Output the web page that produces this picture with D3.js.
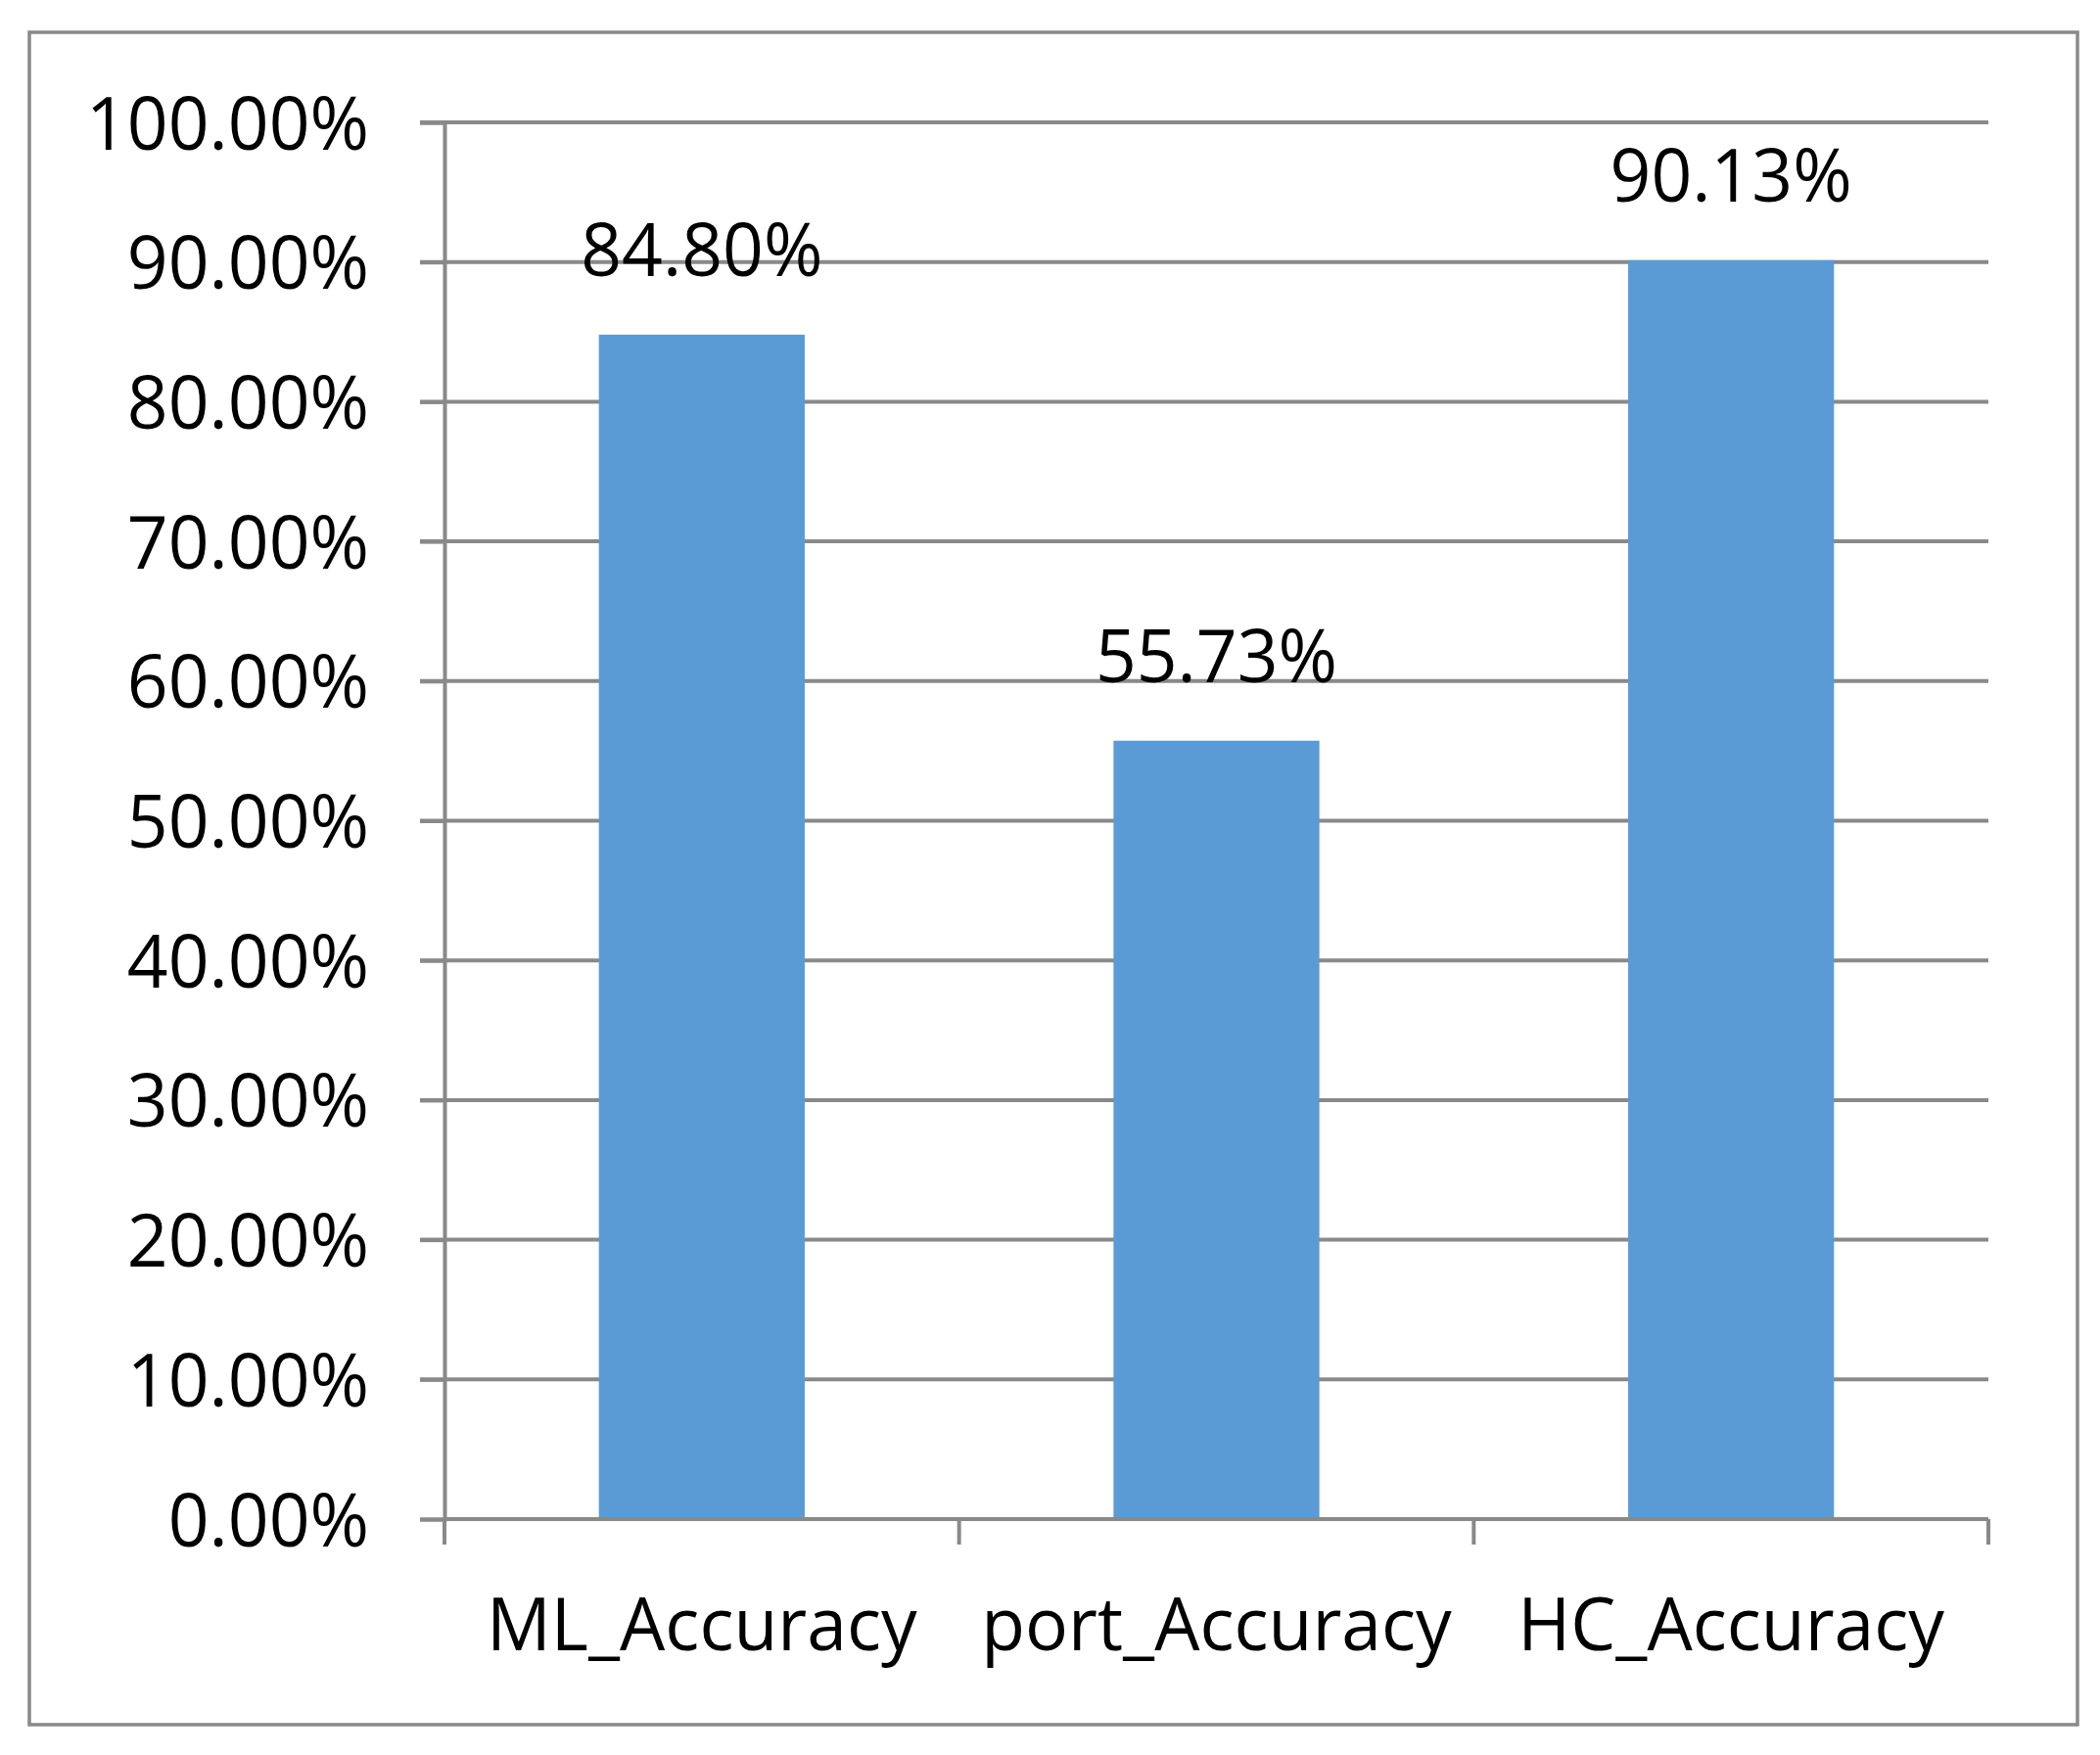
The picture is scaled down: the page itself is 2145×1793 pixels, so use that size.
<!DOCTYPE html>
<html>
<head>
<meta charset="utf-8">
<script src="https://cdn.jsdelivr.net/npm/d3@7"></script>
<style>
  html, body { margin: 0; padding: 0; background: #fff; }
  svg { display: block; }
  text { font-family: "Open Sans", "Noto Sans", sans-serif; fill: #000; }
</style>
</head>
<body>
<script>
// ---- data ----
const categories = ["ML_Accuracy", "port_Accuracy", "HC_Accuracy"];
const values = [0.8480, 0.5573, 0.9013];
const valueLabels = ["84.80%", "55.73%", "90.13%"];
const yTicks = [0, 0.1, 0.2, 0.3, 0.4, 0.5, 0.6, 0.7, 0.8, 0.9, 1.0];
const yTickLabels = ["0.00%", "10.00%", "20.00%", "30.00%", "40.00%", "50.00%", "60.00%", "70.00%", "80.00%", "90.00%", "100.00%"];

// ---- layout ----
const W = 2145, H = 1793;
const plot = { left: 454, right: 2031, top: 125, bottom: 1552 };
const gray = "#898989";
const barColor = "#5B9BD5";
const fontSize = 75;

const svg = d3.select("body").append("svg").attr("width", W).attr("height", H);

// outer border
svg.append("rect")
  .attr("x", 30).attr("y", 33).attr("width", 2122 - 30).attr("height", 1762 - 33)
  .attr("fill", "#fff").attr("stroke", gray).attr("stroke-width", 3.5);

const x = d3.scaleBand().domain(categories).range([plot.left, plot.right]).padding(0);
const y = d3.scaleLinear().domain([0, 1]).range([plot.bottom, plot.top]);

// gridlines (extend left as tick marks)
svg.append("g").selectAll("line").data(yTicks.filter(d => d > 0)).join("line")
  .attr("x1", plot.left - 25).attr("x2", plot.right)
  .attr("y1", d => y(d)).attr("y2", d => y(d))
  .attr("stroke", gray).attr("stroke-width", 4);

// bars
const barFrac = 0.4;
svg.append("g").selectAll("rect").data(values).join("rect")
  .attr("x", (d, i) => x(categories[i]) + x.bandwidth() * (1 - barFrac) / 2)
  .attr("width", x.bandwidth() * barFrac)
  .attr("y", d => y(d))
  .attr("height", d => y(0) - y(d))
  .attr("fill", barColor);

// y axis
const yAxis = d3.axisLeft(y).tickValues(yTicks)
  .tickFormat((d, i) => yTickLabels[i])
  .tickSize(25).tickPadding(52);
const gy = svg.append("g").attr("transform", `translate(${plot.left},0)`).call(yAxis);
gy.select(".domain").attr("stroke", gray).attr("stroke-width", 4);
gy.selectAll(".tick line").attr("stroke", gray).attr("stroke-width", 4);
gy.selectAll(".tick text").attr("font-size", fontSize).attr("dy", "0.36em")
  .style("font-family", '"Open Sans", "Noto Sans", sans-serif').attr("fill", "#000");

// x axis line
svg.append("line")
  .attr("x1", plot.left).attr("x2", plot.right)
  .attr("y1", y(0)).attr("y2", y(0))
  .attr("stroke", gray).attr("stroke-width", 4);
// x axis boundary ticks
const bounds = categories.map(c => x(c)).concat([x(categories[categories.length - 1]) + x.bandwidth()]);
svg.append("g").selectAll("line").data(bounds).join("line")
  .attr("x1", d => d).attr("x2", d => d)
  .attr("y1", y(0)).attr("y2", y(0) + 26)
  .attr("stroke", gray).attr("stroke-width", 4);

// x labels
svg.append("g").selectAll("text").data(categories).join("text")
  .attr("class", "xlab")
  .attr("x", d => x(d) + x.bandwidth() / 2)
  .attr("y", 1686)
  .attr("text-anchor", "middle")
  .attr("font-size", fontSize)
  .text(d => d);

// value labels
svg.append("g").selectAll("text").data(values).join("text")
  .attr("class", "vlab")
  .attr("x", (d, i) => x(categories[i]) + x.bandwidth() / 2)
  .attr("y", d => y(d) - 60)
  .attr("text-anchor", "middle")
  .attr("font-size", fontSize)
  .text((d, i) => valueLabels[i]);

// condense text horizontally to match the narrow reference face
const probe = svg.append("text").attr("font-size", fontSize).text("100.00%");
const k = 289 / probe.node().getComputedTextLength();
probe.remove();
svg.selectAll("text").each(function () {
  const len = this.getComputedTextLength();
  d3.select(this).attr("textLength", len * k).attr("lengthAdjust", "spacingAndGlyphs");
});
</script>
</body>
</html>
